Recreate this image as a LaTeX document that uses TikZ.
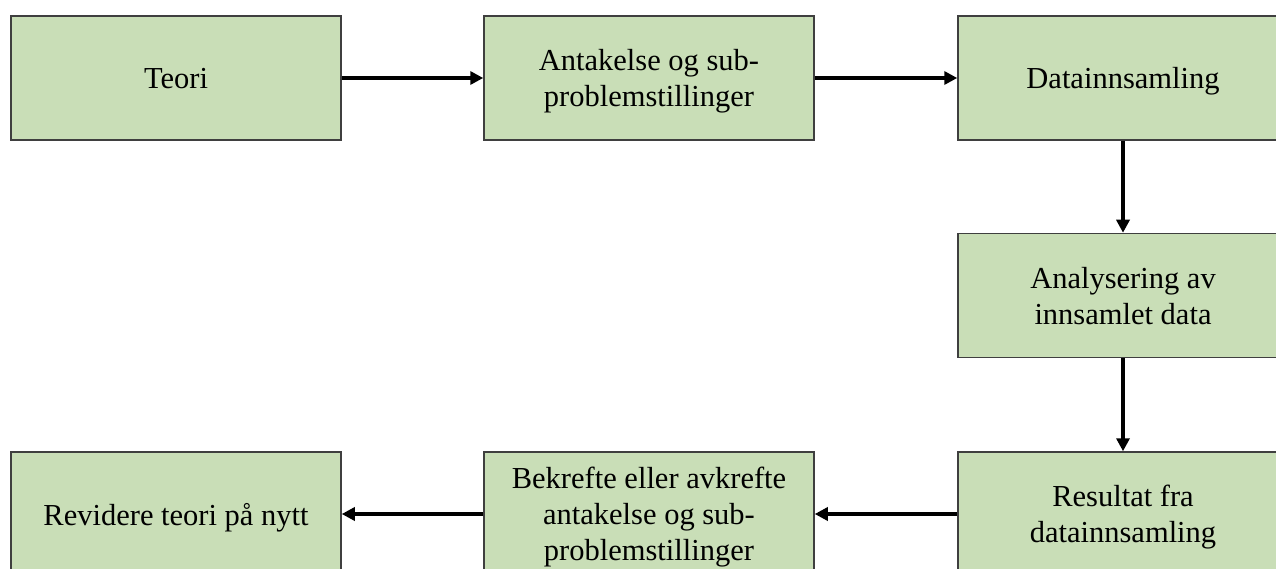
\documentclass[tikz,border=0pt]{standalone}
\usepackage{fontspec}
\setmainfont{Liberation Serif}
\usetikzlibrary{arrows.meta}
\definecolor{boxgreen}{HTML}{C9DEB7}
\definecolor{boxborder}{HTML}{3F3F3F}
\tikzset{
  stepbox/.style={draw=boxborder, line width=1.5pt, fill=boxgreen,
    minimum width=330pt, minimum height=124pt, inner sep=0pt,
    text depth=0pt,
    align=center, text=black, font=\fontsize{30.5}{36}\selectfont},
  arr/.style={line width=3.5pt, -{Triangle[length=13pt,width=13pt]}}
}
\begin{document}
\begin{tikzpicture}[x=1pt,y=-1pt]
\useasboundingbox (0,0) rectangle (1276,569);
\clip (0,0) rectangle (1276,569);
\fill[white] (0,0) rectangle (1276,569);
\node[stepbox] (teori) at (176,78) {Teori};
\node[stepbox] (antak) at (649,78) {Antakelse og sub-\\problemstillinger};
\node[stepbox] (data) at (1123,78) {Datainnsamling};
\node[stepbox] (anal) at (1123,295.5) {Analysering av\\innsamlet data};
\node[stepbox] (resul) at (1123,514) {Resultat fra\\datainnsamling};
\node[stepbox] (bekr) at (649,514) {Bekrefte eller avkrefte\\antakelse og sub-\\problemstillinger};
\node[stepbox] (revid) at (176,514) {Revidere teori på nytt};
\draw[arr] (teori) -- (antak);
\draw[arr] (antak) -- (data);
\draw[arr] (data) -- (anal);
\draw[arr] (anal) -- (resul);
\draw[arr] (resul) -- (bekr);
\draw[arr] (bekr) -- (revid);
\end{tikzpicture}
\end{document}
